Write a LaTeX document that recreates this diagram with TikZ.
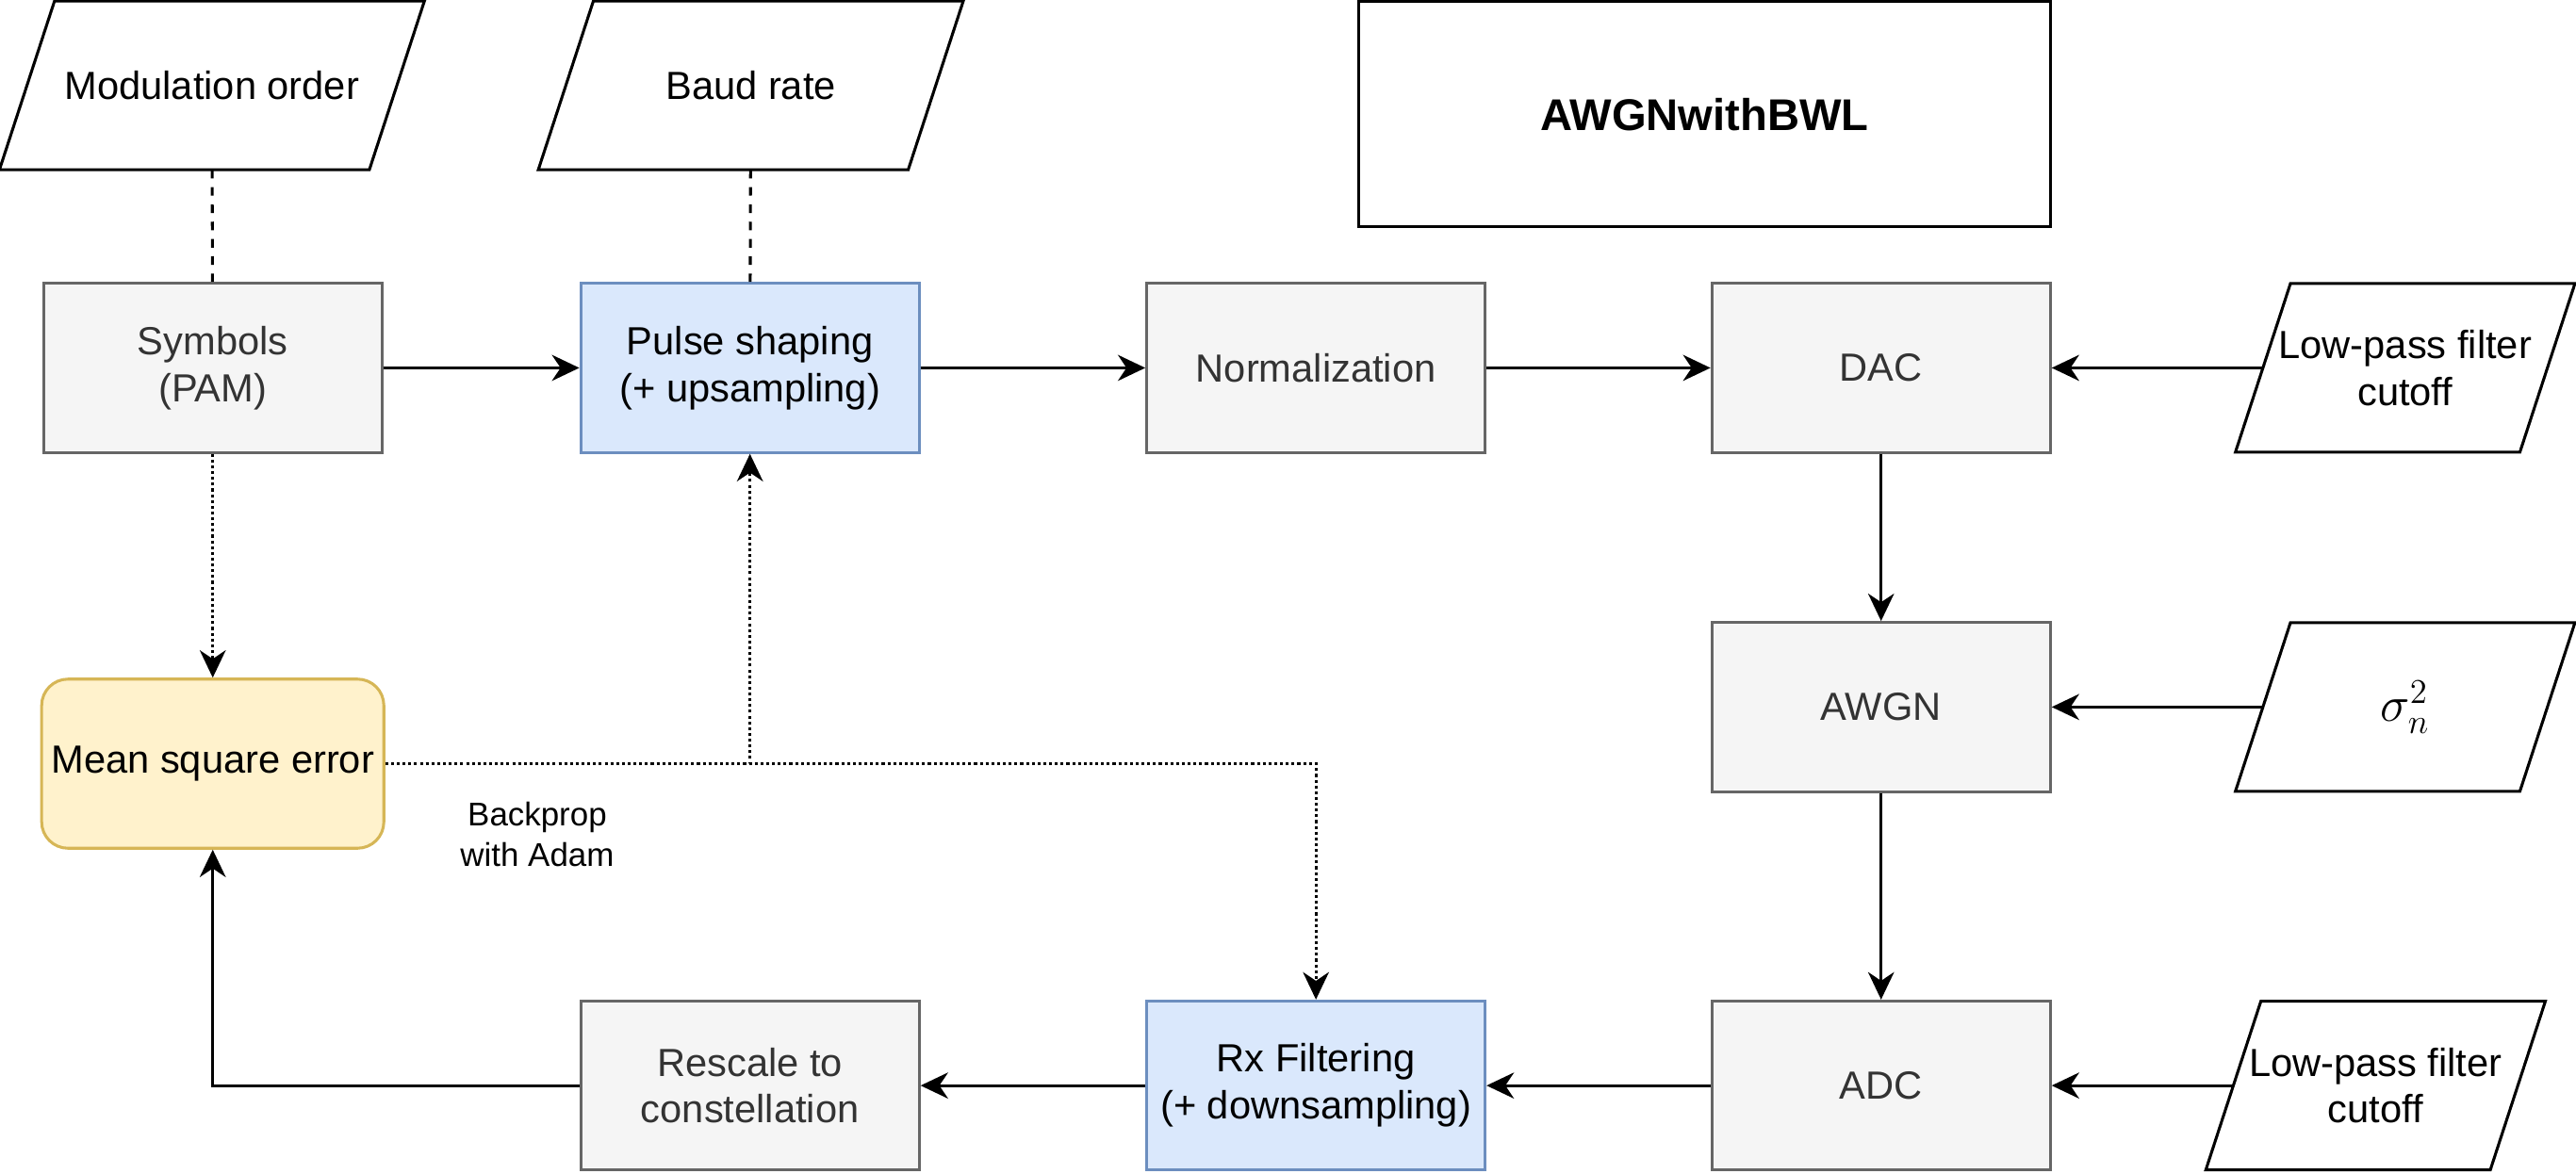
\documentclass[tikz,border=0pt]{standalone}
\usepackage{fontspec}
\setmainfont{Liberation Sans}
\usetikzlibrary{arrows.meta}

\definecolor{blockfill}{HTML}{F5F5F5}
\definecolor{blockdraw}{HTML}{666666}
\definecolor{blocktext}{HTML}{333333}
\definecolor{trainfill}{HTML}{DAE8FC}
\definecolor{traindraw}{HTML}{6C8EBF}
\definecolor{lossfill}{HTML}{FFF2CC}
\definecolor{lossdraw}{HTML}{D6B656}

\tikzset{
	block/.style = {draw = blockdraw, fill = blockfill, text = blocktext, line width = 1pt,
		minimum width = 4.12cm, minimum height = 2.06cm, align = center},
	trainable/.style = {block, draw = traindraw, fill = trainfill, text = black},
	loss/.style = {block, draw = lossdraw, fill = lossfill, text = black, rounded corners = 0.32cm},
	param/.style = {minimum width = 4.12cm, minimum height = 2.04cm, inner sep = 0pt, align = center},
	backward/.style = {dash pattern = on 1pt off 1pt}
}

\begin{document}
\begin{tikzpicture}[x = 0.02cm, y = -0.02cm, > = {Stealth[length = 9.5pt, width = 9pt, inset = 3pt]},
	font = \fontsize{13.6}{16.3}\selectfont]

	\useasboundingbox (0, 0) rectangle (1568, 714.3);

	% inputs
	\node [param, minimum width = 5.16cm] (mod) at (129, 52) {Modulation order};
	\node [param, minimum width = 5.16cm] (baud) at (457, 52) {Baud rate};
	\node [param] (lpfdac) at (1464, 224) {Low-pass filter\\cutoff};
	\node [param, font = \fontsize{17}{20}\selectfont] (sigma) at (1464, 430.5) {$\sigma_n^2$};
	\node [param] (lpfadc) at (1446, 661) {Low-pass filter\\cutoff};

	\foreach \p in {mod, baud, lpfdac, sigma, lpfadc}
		\draw [line width = 1pt] ([xshift = 0.67cm] \p.north west) -- (\p.north east)
			-- ([xshift = -0.67cm] \p.south east) -- (\p.south west) -- cycle;

	\node [draw, line width = 1pt, minimum width = 8.42cm, minimum height = 2.74cm,
		font = \fontsize{15.4}{18}\selectfont\bfseries] (channel) at (1037.5, 69.5) {AWGNwithBWL};

	% blocks
	\node [block] (sym) at (129.5, 224) {Symbols\\(PAM)};
	\node [trainable] (pulse) at (456.5, 224) {Pulse shaping\\(+ upsampling)};
	\node [block] (norm) at (801, 224) {Normalization};
	\node [block] (dac) at (1145, 224) {DAC};
	\node [block] (awgn) at (1145, 430.5) {AWGN};
	\node [block] (adc) at (1145, 661) {ADC};
	\node [trainable] (rx) at (801, 661) {Rx Filtering\\(+ downsampling)};
	\node [block] (rescale) at (456.5, 661) {Rescale to\\constellation};
	\node [loss] (mse) at (129.5, 465) {Mean square error};

	\node [align = center, font = \fontsize{11.4}{14}\selectfont] (backprop) at (327, 508) {Backprop\\with Adam};

	\begin{scope}[line width = 1pt]

		\draw [dashed] (mod) -- (sym);
		\draw [dashed] (baud) -- (pulse);

		\draw [->] (sym) -- (pulse);
		\draw [->] (pulse) -- (norm);
		\draw [->] (norm) -- (dac);
		\draw [->] ([xshift = 0.335cm] lpfdac.west) -- (dac);
		\draw [->] (dac) -- (awgn);
		\draw [->] ([xshift = 0.335cm] sigma.west) -- (awgn);
		\draw [->] (awgn) -- (adc);
		\draw [->] ([xshift = 0.335cm] lpfadc.west) -- (adc);
		\draw [->] (adc) -- (rx);
		\draw [->] (rx) -- (rescale);
		\draw [->] (rescale) -| (mse);

		\draw [->, backward] (sym) -- (mse);
		\draw [->, backward] (mse) -| (pulse);
		\draw [->, backward] (mse) -| (rx);

	\end{scope}

\end{tikzpicture}
\end{document}
